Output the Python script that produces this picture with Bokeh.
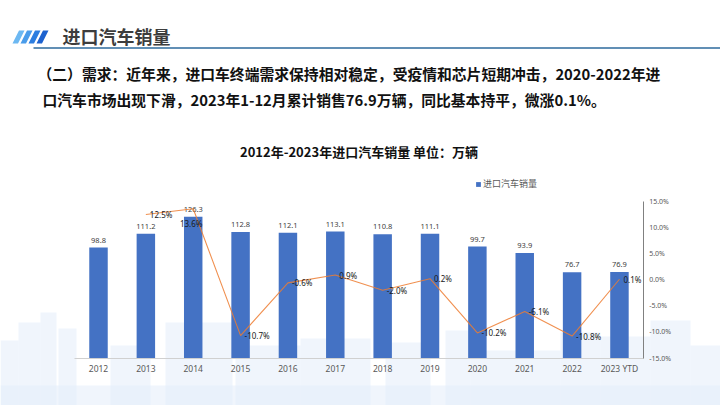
from bokeh.plotting import figure
from bokeh.models import (ColumnDataSource, Range1d, LinearAxis, FixedTicker,
                          Legend, LegendItem, PrintfTickFormatter)
from bokeh.core.properties import value
from bokeh.embed import file_html
from bokeh.resources import INLINE

# ---------------- data ----------------
years = ["2012", "2013", "2014", "2015", "2016", "2017", "2018", "2019",
         "2020", "2021", "2022", "2023 YTD"]
sales = [98.8, 111.2, 126.3, 112.8, 112.1, 113.1, 110.8, 111.1, 99.7, 93.9, 76.7, 76.9]
growth_years = years[1:]
growth = [12.5, 13.6, -10.7, -0.6, 0.9, -2.0, 0.2, -10.2, -6.1, -10.8, 0.1]
pct_ticks = [-15, -10, -5, 0, 5, 10, 15]
sales_axis_max = 140

header_title = "进口汽车销量"
body_line1 = "（二）需求：近年来，进口车终端需求保持相对稳定，受疫情和芯片短期冲击，2020-2022年进"
body_line2 = "口汽车市场出现下滑，2023年1-12月累计销售76.9万辆，同比基本持平，微涨0.1%。"
chart_title = "2012年-2023年进口汽车销量  单位：万辆"
legend_label = "进口汽车销量"

# ---------------- layout (page pixels) ----------------
W, H, M = 720, 405, 0
X0, DX = 98.0, 47.36          # first category centre, category pitch
Y_BASE, Y_TOP = 357.5, 201.0  # baseline and top of value axes

CJK = value("Noto Sans CJK SC")
NUM = value("Noto Sans")

# category (index) range
xs = -(X0 - M) / DX
xe = xs + W / DX
# sales range
b0 = H - (Y_BASE - M)
s_v = (Y_BASE - Y_TOP) / sales_axis_max
vs = -b0 / s_v
ve = vs + H / s_v
# growth range
s_p = (Y_BASE - Y_TOP) / (pct_ticks[-1] - pct_ticks[0])
ps = pct_ticks[0] - b0 / s_p
pe = ps + H / s_p

p = figure(width=W, height=H, x_range=Range1d(xs, xe), y_range=Range1d(vs, ve),
           output_backend="svg", toolbar_location=None, min_border=0,
           x_axis_location=None, y_axis_location=None,
           background_fill_color="white", border_fill_color="white",
           outline_line_color=None)
p.extra_x_ranges = {"px": Range1d(M, M + W)}
p.extra_y_ranges = {"px": Range1d(M + H, M), "pct": Range1d(ps, pe)}
p.grid.visible = False

# ---------------- decorative skyline background ----------------
sky = dict(
    left=[0, 18, 40, 58, 110, 165, 235, 300, 385, 445, 470, 560, 600, 650, 690, 0],
    right=[18, 40, 56, 76, 150, 232, 300, 370, 430, 470, 560, 600, 650, 690, 720, 720],
    top=[340, 322, 312, 328, 345, 322, 345, 338, 342, 330, 350, 332, 336, 320, 345, 385],
)
sky["bottom"] = [405] * len(sky["left"])
p.quad(left="left", right="right", top="top", bottom="bottom", source=ColumnDataSource(sky),
       x_range_name="px", y_range_name="px", fill_color="#e3ecf9", fill_alpha=0.55,
       line_color=None)

# ---------------- header ----------------
strip_cols = ["#6cb8f2", "#4a9cea", "#2b7de0", "#1d62cf"]
ixs, iys = [], []
for k in range(4):
    bx = 12 + 8 * k
    ixs.append([bx, bx + 5.5, bx + 12, bx + 6.5])
    iys.append([43, 43, 30, 30])
p.patches(xs=ixs, ys=iys, fill_color=strip_cols, line_color=None,
          x_range_name="px", y_range_name="px")
p.segment(x0=[33], y0=[47.5], x1=[720], y1=[47.5], line_color="#2d6a9c", line_width=1.6,
          x_range_name="px", y_range_name="px")
p.text(x=[62], y=[35.5], text=[header_title], text_font=CJK, text_font_style="bold",
       text_font_size=value("18px"), text_color="#3d3d3d", text_baseline="middle",
       x_range_name="px", y_range_name="px")
p.text(x=[37, 42], y=[73, 99], text=[body_line1, body_line2], text_font=CJK,
       text_font_style="bold", text_font_size=value("14.8px"), text_color="#111111",
       text_baseline="middle", x_range_name="px", y_range_name="px")
p.text(x=[360], y=[151], text=[chart_title], text_font=CJK, text_font_style="bold",
       text_font_size=value("13px"), text_color="#111111", text_baseline="middle",
       text_align="center", x_range_name="px", y_range_name="px")

# ---------------- bars ----------------
idx = list(range(len(years)))
bar_src = ColumnDataSource(dict(x=idx, top=sales, label=[f"{v:.1f}" for v in sales]))
bars = p.vbar(x="x", top="top", width=0.39, source=bar_src, fill_color="#4472C4",
              line_color=None)
p.text(x="x", y="top", text="label", source=bar_src, text_font=NUM,
       text_font_size=value("7.5px"), text_color="#404040", text_align="center",
       text_baseline="bottom", y_offset=-5)

# ---------------- growth line ----------------
gidx = [years.index(y) for y in growth_years]
label_pos = ["right"] * len(growth)
label_pos[growth_years.index("2014")] = "below"
g_src = ColumnDataSource(dict(
    x=gidx, y=growth, label=[f"{v:.1f}%" for v in growth],
    xo=[4 if s == "right" else -2 for s in label_pos],
    yo=[0 if s == "right" else 15 for s in label_pos],
    al=["left" if s == "right" else "center" for s in label_pos],
))
p.line(x="x", y="y", source=g_src, y_range_name="pct", line_color="#ED7D31",
       line_width=1.1, line_alpha=0.85)
p.text(x="x", y="y", text="label", source=g_src, y_range_name="pct", text_font=NUM,
       text_font_size=value("8px"), text_color="#1a1a1a", text_align="al",
       text_baseline="middle", x_offset="xo", y_offset="yo")

# ---------------- axes ----------------
xaxis = LinearAxis(fixed_location=0, ticker=FixedTicker(ticks=idx),
                   major_label_overrides={i: y for i, y in enumerate(years)},
                   bounds=(-0.5, len(years) - 0.5), axis_line_color="#d0d0d0",
                   major_tick_out=0, major_tick_in=0, minor_tick_line_color=None,
                   major_tick_line_color=None, major_label_standoff=5,
                   major_label_text_font="Noto Sans", major_label_text_font_size="8.5px",
                   major_label_text_color="#595959")
p.add_layout(xaxis, "below")

yaxis = LinearAxis(y_range_name="pct", fixed_location=len(years) - 0.5,
                   ticker=FixedTicker(ticks=pct_ticks),
                   formatter=PrintfTickFormatter(format="%.1f%%"),
                   bounds=(pct_ticks[0], pct_ticks[-1]), axis_line_color="#808080",
                   major_tick_out=0, major_tick_in=0, minor_tick_line_color=None,
                   major_tick_line_color=None, major_label_standoff=6,
                   major_label_text_font="Noto Sans", major_label_text_font_size="7px",
                   major_label_text_color="#595959")
p.add_layout(yaxis, "right")

# ---------------- legend ----------------
legend = Legend(items=[LegendItem(label=legend_label, renderers=[bars])],
                location=(475, 215), orientation="horizontal",
                background_fill_alpha=0, border_line_color=None, padding=0, margin=0,
                glyph_width=6, glyph_height=6, label_height=10, label_standoff=2,
                label_text_font="Noto Sans CJK SC", label_text_font_size="9px",
                label_text_color="#595959")
p.add_layout(legend, "center")

open("out.html", "w").write(file_html(p, INLINE))
